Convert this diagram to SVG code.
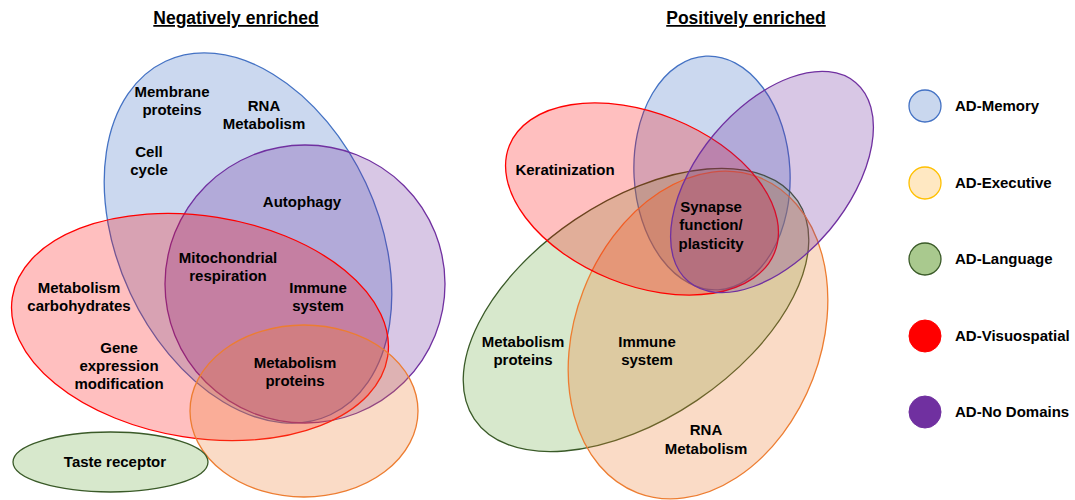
<svg xmlns="http://www.w3.org/2000/svg" width="1075" height="500" viewBox="0 0 1075 500">
<style>
text{font-family:"Liberation Sans",Arial,sans-serif;font-weight:bold;font-size:15px;fill:#000;text-anchor:middle}
.title{font-size:17.5px;text-decoration:underline}
.leg{text-anchor:start}
.mem{fill:#4472C4;fill-opacity:0.28;stroke:#4472C4;stroke-width:1.3}
.exe{fill:#ED7D31;fill-opacity:0.28;stroke:#ED7D31;stroke-width:1.3}
.lan{fill:#70AD47;fill-opacity:0.28;stroke:#3A5A28;stroke-width:1.3}
.vis{fill:#FF0000;fill-opacity:0.25;stroke:#FF0000;stroke-width:1.3}
.nod{fill:#7030A0;fill-opacity:0.27;stroke:#7030A0;stroke-width:1.3}
</style>
<rect width="1075" height="500" fill="#fff"/>
<g id="titles">
<text class="title" x="236" y="24">Negatively enriched</text>
<text class="title" x="746" y="24">Positively enriched</text>
</g>
<g id="negative">
<g id="neg-memory"><ellipse class="mem" cx="248" cy="238" rx="130" ry="195" transform="rotate(-25 248 238)"/></g>
<g id="neg-nodomains"><ellipse class="nod" cx="305" cy="284" rx="140" ry="139"/></g>
<g id="neg-visuospatial"><ellipse class="vis" cx="200" cy="327" rx="190" ry="111" transform="rotate(9 200 327)"/></g>
<g id="neg-executive"><ellipse class="exe" cx="304" cy="411" rx="114" ry="86"/></g>
<g id="neg-language"><ellipse class="lan" cx="110.5" cy="462" rx="97.5" ry="30"/></g>
<g id="neg-labels">
<text x="172" y="97">Membrane</text>
<text x="172" y="115">proteins</text>
<text x="264" y="111">RNA</text>
<text x="264" y="129">Metabolism</text>
<text x="149" y="157">Cell</text>
<text x="149" y="175">cycle</text>
<text x="302" y="207">Autophagy</text>
<text x="228" y="263">Mitochondrial</text>
<text x="228" y="281">respiration</text>
<text x="318" y="293">Immune</text>
<text x="318" y="311">system</text>
<text x="79" y="293">Metabolism</text>
<text x="79" y="311">carbohydrates</text>
<text x="119" y="353">Gene</text>
<text x="119" y="371">expression</text>
<text x="119" y="389">modification</text>
<text x="295" y="368">Metabolism</text>
<text x="295" y="386">proteins</text>
<text x="115" y="467">Taste receptor</text>
</g>
</g>
<g id="positive">
<g id="pos-memory"><ellipse class="mem" cx="712" cy="173" rx="78" ry="117" transform="rotate(-3 712 173)"/></g>
<g id="pos-language"><ellipse class="lan" cx="636" cy="310" rx="195" ry="109" transform="rotate(-34 636 310)"/></g>
<g id="pos-executive"><ellipse class="exe" cx="698" cy="335" rx="123" ry="169" transform="rotate(21 698 335)"/></g>
<g id="pos-visuospatial"><ellipse class="vis" cx="642" cy="199" rx="143" ry="86" transform="rotate(22 642 199)"/></g>
<g id="pos-nodomains"><ellipse class="nod" cx="772" cy="182" rx="75" ry="130" transform="rotate(40 772 182)"/></g>
<g id="pos-labels">
<text x="565" y="175">Keratinization</text>
<text x="711" y="212">Synapse</text>
<text x="711" y="230">function/</text>
<text x="711" y="249">plasticity</text>
<text x="523" y="347">Metabolism</text>
<text x="523" y="365">proteins</text>
<text x="647" y="347">Immune</text>
<text x="647" y="365">system</text>
<text x="706" y="435">RNA</text>
<text x="706" y="454">Metabolism</text>
</g>
</g>
<g id="legend">
<g id="leg-memory"><circle cx="925" cy="106" r="16" fill="#C9D7EE" stroke="#4472C4" stroke-width="1.3"/><text class="leg" x="955" y="111">AD-Memory</text></g>
<g id="leg-executive"><circle cx="925" cy="183" r="16" fill="#FFE8C2" stroke="#FFC000" stroke-width="1.3"/><text class="leg" x="955" y="188">AD-Executive</text></g>
<g id="leg-language"><circle cx="925" cy="259" r="16" fill="#A9C98E" stroke="#3A5A28" stroke-width="1.3"/><text class="leg" x="955" y="264">AD-Language</text></g>
<g id="leg-visuospatial"><circle cx="925" cy="336" r="16" fill="#FF0000" stroke="#FF0000" stroke-width="1"/><text class="leg" x="955" y="341">AD-Visuospatial</text></g>
<g id="leg-nodomains"><circle cx="925" cy="412" r="16" fill="#7030A0" stroke="#7030A0" stroke-width="1"/><text class="leg" x="955" y="417">AD-No Domains</text></g>
</g>
</svg>
